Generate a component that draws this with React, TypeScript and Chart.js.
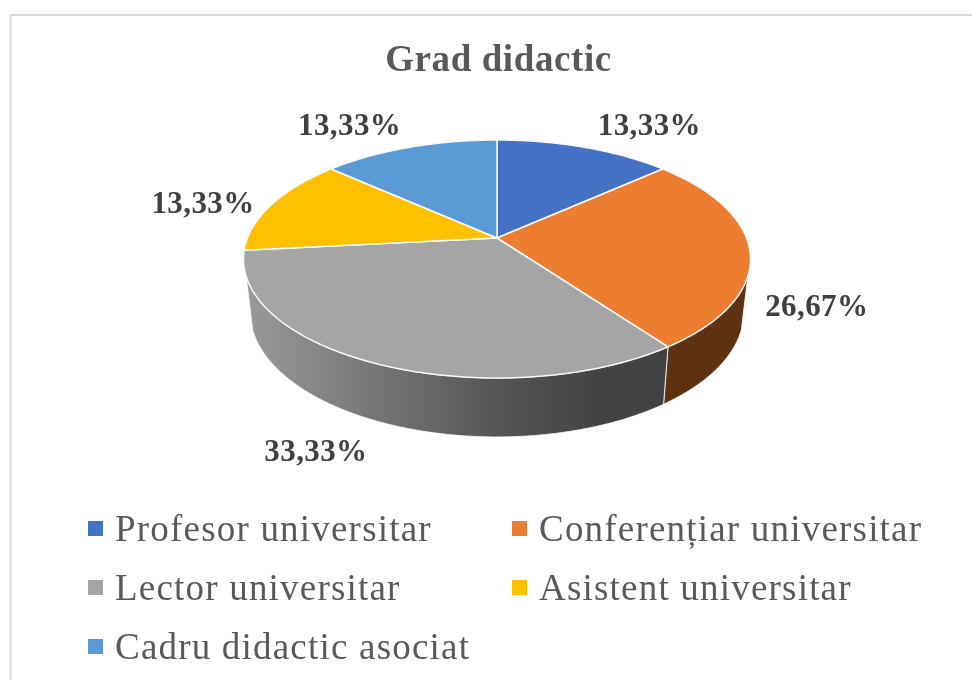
import React, { useEffect, useRef } from "react";
import { Chart, registerables } from "chart.js";

Chart.register(...registerables);

const categories = [
  "Profesor universitar",
  "Conferențiar universitar",
  "Lector universitar",
  "Asistent universitar",
  "Cadru didactic asociat",
];
const percentages = [13.33, 26.67, 33.33, 13.33, 13.33];
const sliceColors = ["#4472C4", "#ED7D31", "#A5A5A5", "#FFC000", "#5B9BD5"];
const chartTitle = "Grad didactic";

const SERIF = "'Liberation Serif'";
const TEXT_DARK = "#404040";
const TEXT_GREY = "#595959";

// Perspective disc: top face and (smaller, lower) base rim
const top = { cx: 497, cy: 238, A: 115.3, B: 249.5, p: 0.1765 };
const base = { cx: 497, cy: 290, A: 121, B: 243, p: 0.1765 };
const project = (d: typeof top, a: number) => {
  const u = Math.cos(a);
  const v = -Math.sin(a);
  const w = 1 + d.p * v;
  return { x: d.cx + (d.B * u) / w, y: d.cy - (d.A * v) / w };
};
// part of the rim (in arc angle) whose wall faces the viewer
const WALL_FROM = 0.317;
const WALL_TO = Math.PI - 0.317;

const labelOffsets = [
  [65, -20],
  [67, 58],
  [-60, 89],
  [-69, 1],
  [-60, -20],
];

const traceRim = (ctx: CanvasRenderingContext2D, d: typeof top, a0: number, a1: number) => {
  const n = Math.max(8, Math.ceil(Math.abs(a1 - a0) / 0.01));
  for (let i = 0; i <= n; i++) {
    const q = project(d, a0 + ((a1 - a0) * i) / n);
    ctx.lineTo(q.x, q.y);
  }
};

const framePlugin = {
  id: "frame",
  beforeDraw(chart: any) {
    const ctx = chart.ctx as CanvasRenderingContext2D;
    ctx.save();
    ctx.strokeStyle = "#D9D9D9";
    ctx.lineWidth = 2;
    ctx.strokeRect(10.5, 15, 1000, 1000);
    ctx.restore();
    (ctx as any).letterSpacing = "0.6px";
  },
};

const discPlugin = {
  id: "disc",
  beforeDatasetDraw(chart: any) {
    const ctx = chart.ctx as CanvasRenderingContext2D;
    const arcs = chart.getDatasetMeta(0).data;
    const colors = chart.data.datasets[0].backgroundColor;
    ctx.save();
    ctx.lineJoin = "round";

    // side wall for the slices facing the viewer
    const grad = ctx.createLinearGradient(245, 0, 665, 0);
    grad.addColorStop(0, "#9A9A9A");
    grad.addColorStop(0.6, "#555555");
    grad.addColorStop(0.85, "#434343");
    grad.addColorStop(1, "#424242");
    const wallFills: Record<number, any> = { 1: "#5F3113", 2: grad };
    [1, 2].forEach((i) => {
      const s = Math.max(arcs[i].startAngle, WALL_FROM);
      const e = Math.min(arcs[i].endAngle, WALL_TO);
      ctx.beginPath();
      traceRim(ctx, top, s, e);
      traceRim(ctx, base, e, s);
      ctx.closePath();
      ctx.fillStyle = wallFills[i];
      ctx.fill();
      ctx.strokeStyle = "rgba(255,255,255,0.8)";
      ctx.lineWidth = 1;
      ctx.stroke();
    });

    // top face
    arcs.forEach((arc: any, i: number) => {
      ctx.beginPath();
      ctx.moveTo(top.cx, top.cy);
      traceRim(ctx, top, arc.startAngle, arc.endAngle);
      ctx.closePath();
      ctx.fillStyle = colors[i];
      ctx.fill();
      ctx.strokeStyle = "#F8F8F8";
      ctx.lineWidth = 1.5;
      ctx.stroke();
    });
    ctx.restore();
    return false;
  },
  afterDatasetsDraw(chart: any) {
    const ctx = chart.ctx as CanvasRenderingContext2D;
    const arcs = chart.getDatasetMeta(0).data;
    const values = chart.data.datasets[0].data;
    ctx.save();
    // data labels
    (ctx as any).letterSpacing = "0.4px";
    ctx.font = `bold 31px ${SERIF}`;
    ctx.fillStyle = TEXT_DARK;
    ctx.textAlign = "center";
    ctx.textBaseline = "middle";
    arcs.forEach((arc: any, i: number) => {
      const q = project(top, (arc.startAngle + arc.endAngle) / 2);
      const text = values[i].toFixed(2).replace(".", ",") + "%";
      ctx.fillText(text, q.x + labelOffsets[i][0], q.y + labelOffsets[i][1]);
    });
    // legend
    (ctx as any).letterSpacing = "1.2px";
    ctx.font = `37px ${SERIF}`;
    ctx.textAlign = "left";
    ctx.textBaseline = "alphabetic";
    chart.data.labels.forEach((label: string, i: number) => {
      const col = i % 2;
      const row = Math.floor(i / 2);
      const sx = col === 0 ? 88 : 512;
      const by = 541 + row * 59;
      ctx.fillStyle = chart.data.datasets[0].backgroundColor[i];
      ctx.fillRect(sx, by - 20, 15, 15);
      ctx.fillStyle = TEXT_GREY;
      ctx.fillText(label, sx + 27, by);
    });
    ctx.restore();
  },
};

export default function App() {
  const ref = useRef<HTMLCanvasElement>(null);
  useEffect(() => {
    const chart = new Chart(ref.current!, {
      type: "doughnut",
      data: {
        labels: categories,
        datasets: [{ data: percentages, backgroundColor: sliceColors }],
      },
      options: {
        animation: false,
        responsive: false,
        cutout: 0,
        layout: { padding: { left: 25, top: 39, bottom: 300 } },
        plugins: {
          legend: { display: false },
          tooltip: { enabled: false },
          title: {
            display: true,
            text: chartTitle,
            color: TEXT_GREY,
            font: { family: SERIF, size: 37, weight: "bold" },
            padding: 0,
          },
        },
      },
      plugins: [framePlugin, discPlugin],
    } as any);
    return () => chart.destroy();
  }, []);
  return (
    <canvas
      ref={ref}
      width={972}
      height={680}
      style={{ position: "fixed", left: 0, top: 0, width: 972, height: 680, background: "#fff" }}
    />
  );
}
